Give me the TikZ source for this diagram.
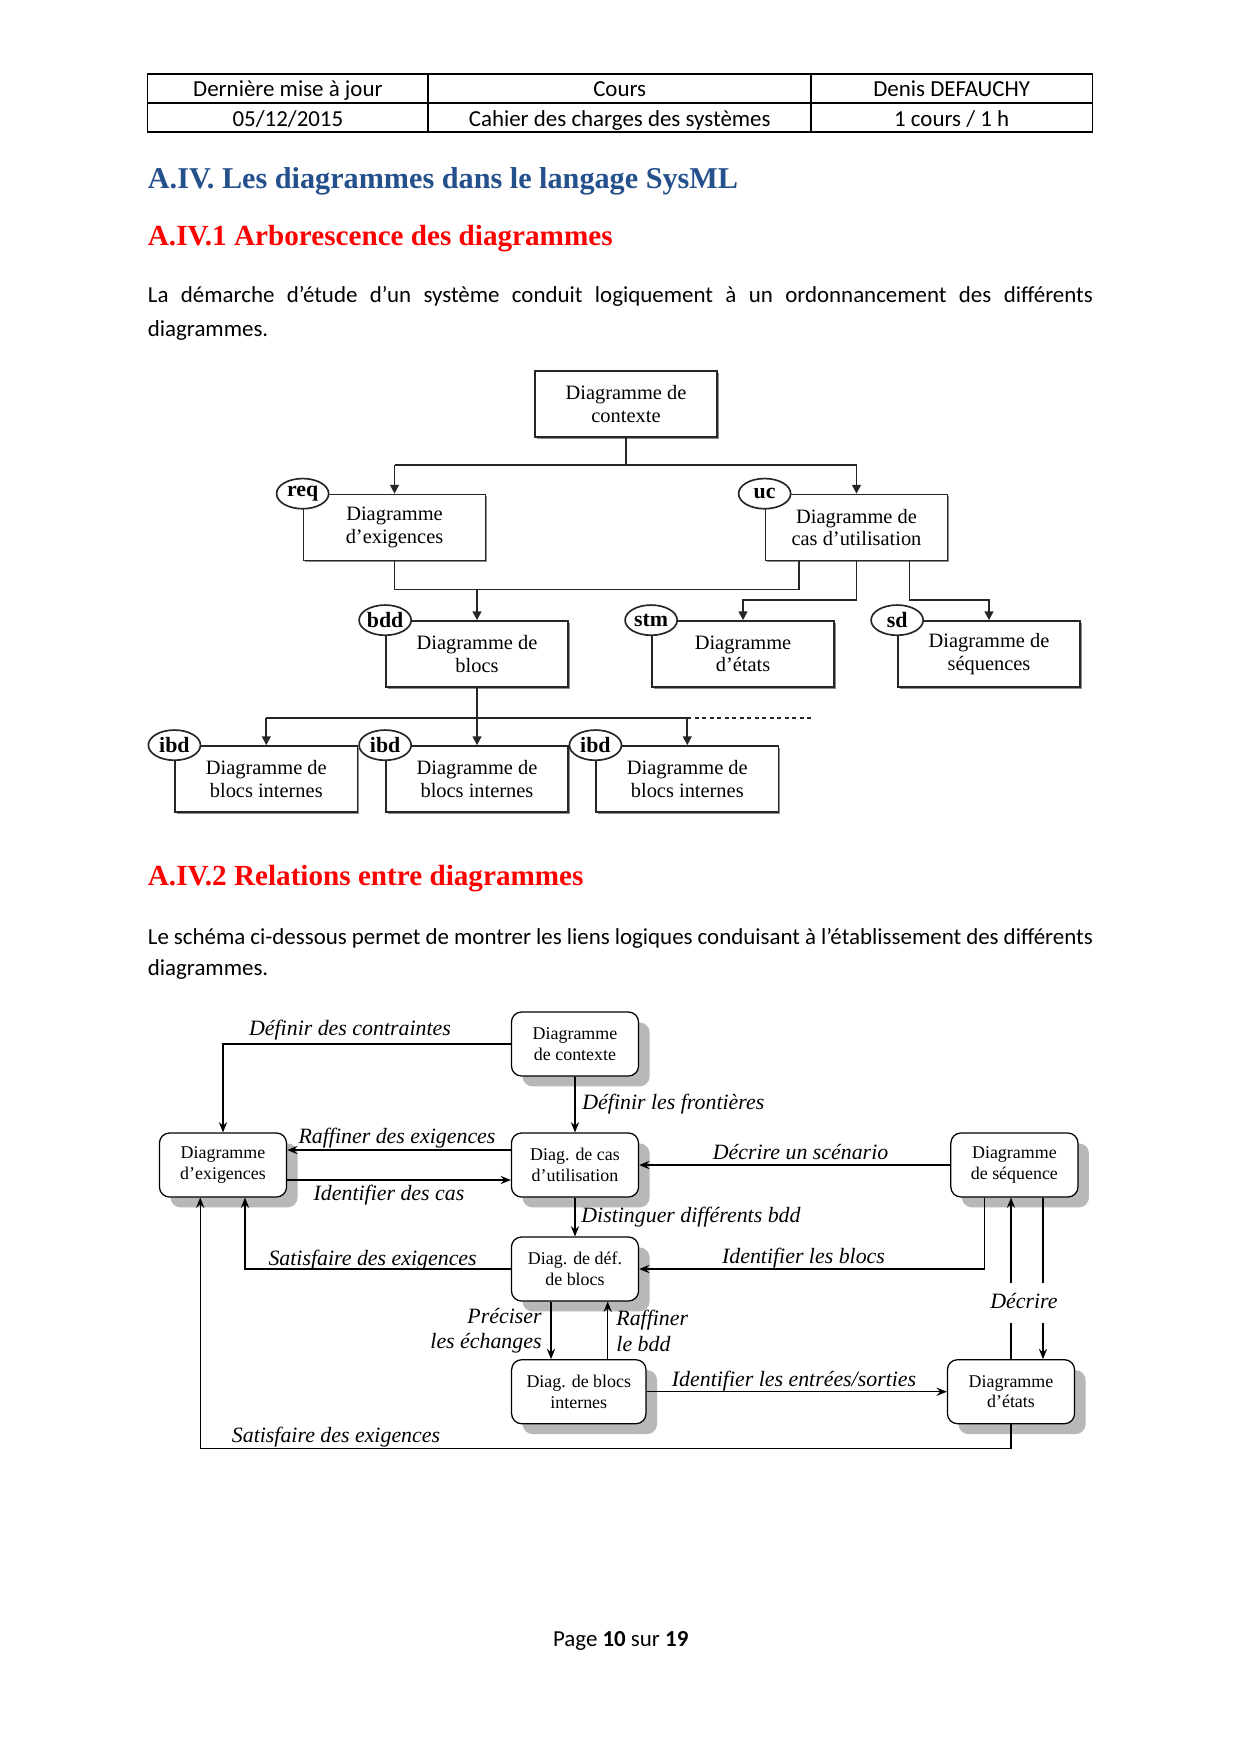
\documentclass[tikz,border=0pt]{standalone}
\usepackage{fontspec}
\setmainfont{Liberation Serif}
\newfontfamily\bodyfont{Carlito}
\usetikzlibrary{arrows.meta,shadows,calc,shapes.geometric}
\definecolor{hblue}{RGB}{36,80,140}
\definecolor{hred}{RGB}{255,0,0}
\begin{document}
\begin{tikzpicture}[x=0.48pt,y=-0.48pt,
  bodytxt/.style={font=\bodyfont\fontsize{11}{13}\selectfont, inner sep=0pt, anchor=base west},
  celltxt/.style={font=\bodyfont\fontsize{11}{13}\selectfont, inner sep=0pt, anchor=base},
  tbox/.style={draw=black!85, line width=0.8pt, fill=white, minimum width=87.4pt, minimum height=31.7pt,
    inner sep=0pt, align=center, font=\fontsize{9.8}{10.7}\selectfont,
    drop shadow={shadow xshift=0.8pt, shadow yshift=-0.8pt, fill=black!45, opacity=1}},
  tag/.style={draw=black!85, line width=0.8pt, fill=white, ellipse, minimum width=25pt, minimum height=14.5pt,
    inner sep=0pt, font=\bfseries\fontsize{10.5}{12}\selectfont},
  tline/.style={line width=0.8pt, draw=black!85},
  tarr/.style={line width=0.8pt, draw=black!85, -{Triangle[length=4.2pt,width=4.2pt]}},
  rbox/.style={draw, line width=0.6pt, rounded corners=4.8pt, fill=white, minimum width=61pt, minimum height=30.7pt,
    inner sep=0pt, align=center, font=\fontsize{8.6}{10}\selectfont,
    drop shadow={shadow xshift=5.3pt, shadow yshift=-5pt, fill=black!28, opacity=1}},
  rline/.style={line width=0.6pt},
  rarr/.style={line width=0.6pt, -{Stealth[length=5pt,width=4pt,inset=1.8pt]}},
  rlab/.style={font=\itshape\fontsize{10.5}{12}\selectfont, inner sep=0pt}
]
\fill[white] (0,0) rectangle (1240,1754);
\useasboundingbox (0,0) rectangle (1240,1754);

% ---------- header table ----------
\draw[line width=0.9pt] (147.5,74) rectangle (1092.5,132);
\draw[line width=0.9pt] (147.5,103.3) -- (1092.5,103.3);
\draw[line width=0.9pt] (428.3,74) -- (428.3,132);
\draw[line width=0.9pt] (811,74) -- (811,132);
\node[celltxt] (c11) at (287.9,96.7) {Dernière mise à jour};
\node[celltxt] (c12) at (619.7,96.7) {Cours};
\node[celltxt] (c13) at (951.7,96.7) {Denis DEFAUCHY};
\node[celltxt] (c21) at (287.9,126) {05/12/2015};
\node[celltxt] (c22) at (619.7,126) {Cahier des charges des systèmes};
\node[celltxt] (c23) at (951.7,126) {1 cours / 1 h};

% ---------- headings and text ----------
\node[anchor=base west, inner sep=0pt, text=hblue, font=\bfseries\fontsize{14.5}{17}\selectfont] (h1) at (147.5,188.3) {A.IV. Les diagrammes dans le langage SysML};
\node[anchor=base west, inner sep=0pt, text=hred, font=\bfseries\fontsize{14}{17}\selectfont] (h2) at (147.5,245) {A.IV.1 Arborescence des diagrammes};
\node[bodytxt] (p1a) at (147.5,302.3) {\makebox[453.6pt][s]{La démarche d’étude d’un système conduit logiquement à un ordonnancement des différents}};
\node[bodytxt] (p1b) at (147.5,336) {diagrammes.};

% ---------- tree diagram ----------
\node[tbox] (ctx) at (626,404) {Diagramme de\\contexte};
\node[tbox] (req) at (394.5,527.5) {Diagramme\\d’exigences};
\node[tbox] (uc) at (856.5,527.5) {Diagramme de\\cas d’utilisation};
\node[tbox] (bdd) at (477,654) {Diagramme de\\blocs};
\node[tbox] (stm) at (743,654) {Diagramme\\d’états};
\node[tbox] (sd) at (989,654) {Diagramme de\\séquences};
\node[tbox] (ibdA) at (266.3,779) {Diagramme de\\blocs internes};
\node[tbox] (ibdB) at (477,779) {Diagramme de\\blocs internes};
\node[tbox] (ibdC) at (687.3,779) {Diagramme de\\blocs internes};

\node[tag] (treq) at (req.north west) {req};
\node[tag] (tuc) at (uc.north west) {uc};
\node[tag] (tbdd) at (bdd.north west) {bdd};
\node[tag] (tstm) at (stm.north west) {stm};
\node[tag] (tsd) at (sd.north west) {sd};
\node[tag] (tibdA) at (ibdA.north west) {ibd};
\node[tag] (tibdB) at (ibdB.north west) {ibd};
\node[tag] (tibdC) at (ibdC.north west) {ibd};

\coordinate (c1) at (394.5,465);
\coordinate (c2) at (856.5,465);
\draw[tline] (ctx.south) -- (ctx.south |- c1);
\draw[tline] (c1) -- (c2);
\draw[tarr] (c1) -- (req.north);
\draw[tarr] (c2) -- (uc.north);

\coordinate (jr) at (394.5,589.5);
\coordinate (ju) at (799,589.5);
\draw[tline] (req.south) -- (jr) -- (ju) -- (ju |- uc.south);
\draw[tarr] (bdd.north |- jr) -- (bdd.north);

\coordinate (s1) at (743,600);
\draw[tarr] (uc.south) |- (s1) -- (stm.north);
\coordinate (u2) at (909.5,560.5);
\coordinate (s2) at (989,600);
\draw[tarr] (u2) |- (s2) -- (sd.north);

\coordinate (b1) at (266.3,717.7);
\coordinate (b3) at (687.3,717.7);
\coordinate (b4) at (811.5,717.7);
\draw[tline] (b1) -- (b3);
\draw[tline, dash pattern=on 2pt off 1.6pt] (b3) -- (b4);
\draw[tarr] (bdd.south) -- (ibdB.north);
\draw[tarr] (b1) -- (ibdA.north);
\draw[tarr] (b3) -- (ibdC.north);

% ---------- second section ----------
\node[anchor=base west, inner sep=0pt, text=hred, font=\bfseries\fontsize{14}{17}\selectfont] (h3) at (147.5,885) {A.IV.2 Relations entre diagrammes};
\node[bodytxt] (p2a) at (147.5,944.3) {\makebox[453.6pt][s]{Le schéma ci-dessous permet de montrer les liens logiques conduisant à l’établissement des différents}};
\node[bodytxt] (p2b) at (147.5,975) {diagrammes.};

% ---------- relations diagram ----------
\node[rbox] (ctx2) at (575,1044) {Diagramme\\de contexte};
\node[rbox] (exi) at (223,1165) {Diagramme\\d’exigences};
\node[rbox] (uc2) at (575,1165) {Diag. de cas\\d’utilisation};
\node[rbox] (seq) at (1014.4,1165) {Diagramme\\de séquence};
\node[rbox] (bdd2) at (575,1269) {Diag. de déf.\\de blocs};
\node[rbox, minimum width=64.5pt] (ibd) at (578.8,1391.7) {Diag. de blocs\\internes};
\node[rbox] (etat) at (1011,1391.7) {Diagramme\\d’états};

% Définir des contraintes
\draw[rarr] (ctx2.west) -| (exi.north);
\node[rlab, anchor=base] (l1) at (350,1035) {Définir des contraintes};
% Définir les frontières
\draw[rarr] (ctx2.south) -- (uc2.north);
\node[rlab, anchor=base west] (l2) at (582,1109) {Définir les frontières};
% Raffiner des exigences
\draw[rarr] ($(uc2.west)+(0,-15)$) coordinate (p3) -- (p3 -| exi.east);
\node[rlab, anchor=base] (l3) at (397,1143) {Raffiner des exigences};
% Identifier des cas
\draw[rarr] ($(exi.east)+(0,15)$) coordinate (p4) -- (p4 -| uc2.west);
\node[rlab, anchor=base] (l4) at (389,1200) {Identifier des cas};
% Décrire un scénario
\draw[rarr] (seq.west) -- (uc2.east);
\node[rlab, anchor=base] (l5) at (800.6,1159) {Décrire un scénario};
% Distinguer différents bdd
\draw[rarr] (uc2.south) -- (bdd2.north);
\node[rlab, anchor=base west] (l6) at (581,1222) {Distinguer différents bdd};
% Identifier les blocs
\draw[rarr] ($(seq.south)+(-30,0)$) |- (bdd2.east);
\node[rlab, anchor=base] (l7) at (803.5,1263) {Identifier les blocs};
% Satisfaire des exigences (1)
\draw[rarr] (bdd2.west) -| ($(exi.south)+(22,0)$);
\node[rlab, anchor=base] (l8) at (372.6,1265) {Satisfaire des exigences};
% Décrire
\coordinate (d1) at (1011,1283);
\coordinate (d2) at (1011,1323);
\coordinate (d3) at (1043,1283);
\coordinate (d4) at (1043,1323);
\draw[rarr] (d1) -- (d1 |- seq.south);
\draw[rline] (etat.north) -- (d2);
\draw[rline] (d3 |- seq.south) -- (d3);
\draw[rarr] (d4) -- (d4 |- etat.north);
\node[rlab, anchor=base] (l9) at (1024,1308) {Décrire};
% Préciser les échanges
\draw[rarr] ($(bdd2.south)+(-24,0)$) coordinate (p10) -- (p10 |- ibd.north);
\node[rlab, anchor=base east] (l10a) at (542,1323.3) {Préciser};
\node[rlab, anchor=base east] (l10b) at (542,1348) {les échanges};
% Raffiner le bdd
\draw[rarr] ($(ibd.north)+(28.9,0)$) coordinate (p11) -- (p11 |- bdd2.south);
\node[rlab, anchor=base west] (l11a) at (616,1325.7) {Raffiner};
\node[rlab, anchor=base west] (l11b) at (616,1351) {le bdd};
% Identifier les entrées/sorties
\draw[rarr] (ibd.east) -- (etat.west);
\node[rlab, anchor=base] (l12) at (794,1386) {Identifier les entrées/sorties};
% Satisfaire des exigences (2)
\coordinate (q13) at (200.2,1448.3);
\draw[rarr] (etat.south) |- (q13) -- (q13 |- exi.south);
\node[rlab, anchor=base] (l13) at (336,1442) {Satisfaire des exigences};

% ---------- footer ----------
\node[celltxt] (pg) at (620.7,1646) {Page \textbf{10} sur \textbf{19}};
\end{tikzpicture}
\end{document}
